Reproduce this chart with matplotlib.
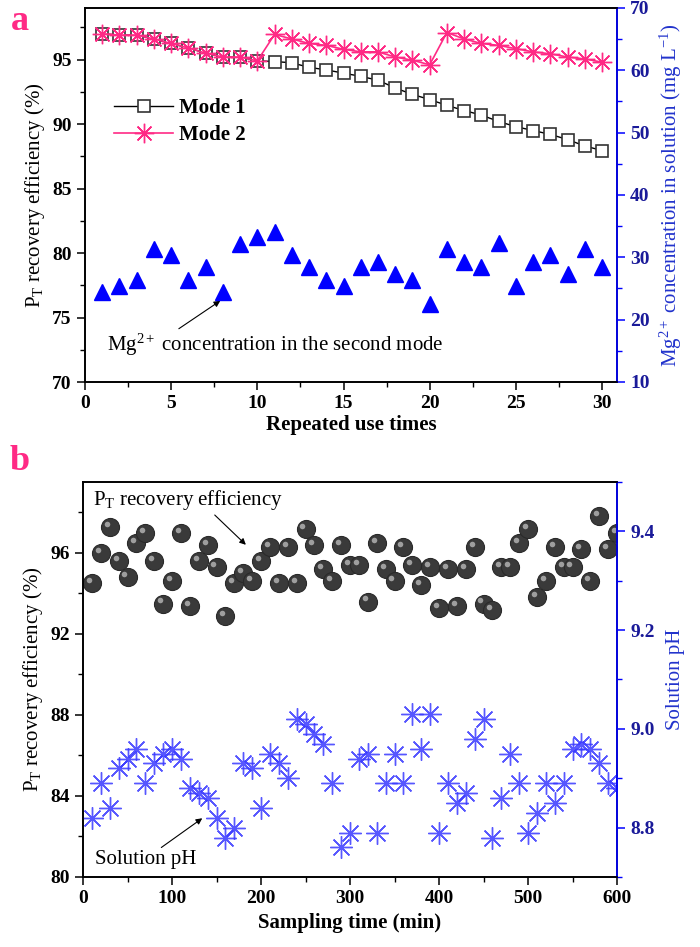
import numpy as np
import matplotlib
matplotlib.use("Agg")
import matplotlib.pyplot as plt
import matplotlib.transforms as mtransforms

plt.rcParams['font.family'] = ['Liberation Serif', 'DejaVu Serif']
plt.rcParams['mathtext.fontset'] = 'custom'
plt.rcParams['mathtext.rm'] = 'Liberation Serif'
plt.rcParams['mathtext.it'] = 'Liberation Serif:italic'
plt.rcParams['mathtext.bf'] = 'Liberation Serif:bold'

# panel a data
uses = np.arange(1, 31)
mode1 = [97.0, 96.9, 96.9, 96.6, 96.25, 95.9, 95.5, 95.2, 95.2, 94.9,
         94.85, 94.75, 94.4, 94.2, 93.95, 93.7, 93.4, 92.8, 92.3, 91.9,
         91.45, 91.05, 90.7, 90.2, 89.8, 89.5, 89.2, 88.8, 88.3, 87.95]
mode2 = [97.0, 96.9, 96.9, 96.6, 96.25, 95.9, 95.5, 95.2, 95.2, 94.9,
         96.95, 96.6, 96.25, 96.1, 95.8, 95.6, 95.6, 95.2, 94.95, 94.6,
         97.1, 96.6, 96.25, 96.1, 95.85, 95.6, 95.45, 95.2, 95.05, 94.8]
mg = [24.4, 25.4, 26.3, 31.4, 30.3, 26.3, 28.5, 24.4, 32.2, 33.2,
      34.0, 30.3, 28.5, 26.3, 25.4, 28.5, 29.3, 27.4, 26.3, 22.5,
      31.4, 29.3, 28.5, 32.3, 25.4, 29.3, 30.3, 27.4, 31.4, 28.5]

# panel b data
times = np.arange(10, 601, 10)
eff = [94.5, 96.0, 97.3, 95.6, 94.8, 96.5, 97.0, 95.6, 93.5, 94.6,
       97.0, 93.4, 95.6, 96.4, 95.3, 92.9, 94.5, 95.0, 94.6, 95.6,
       96.3, 94.5, 96.3, 94.5, 97.2, 96.4, 95.2, 94.6, 96.4, 95.4,
       95.4, 93.6, 96.5, 95.2, 94.6, 96.3, 95.4, 94.4, 95.3, 93.3,
       95.2, 93.4, 95.2, 96.3, 93.5, 93.2, 95.3, 95.3, 96.5, 97.2,
       93.8, 94.6, 96.3, 95.3, 95.3, 96.2, 94.6, 97.8, 96.2, 97.0]
ph = [8.82, 8.89, 8.84, 8.92, 8.94, 8.96, 8.89, 8.93, 8.95, 8.96,
      8.94, 8.88, 8.87, 8.86, 8.82, 8.78, 8.80, 8.93, 8.92, 8.84,
      8.95, 8.93, 8.90, 9.02, 9.01, 8.99, 8.97, 8.89, 8.76, 8.79,
      8.94, 8.95, 8.79, 8.89, 8.95, 8.89, 9.03, 8.96, 9.03, 8.79,
      8.89, 8.85, 8.87, 8.98, 9.02, 8.78, 8.86, 8.95, 8.89, 8.79,
      8.83, 8.89, 8.85, 8.89, 8.96, 8.97, 8.96, 8.93, 8.89, 8.88]

pink = '#ff2a85'
blue = '#0000ff'
navy = '#1a1a99'
star = (8, 2, 0)

fig = plt.figure(figsize=(7, 9.47), dpi=100)


def style(ax, axr):
    for a in (ax, axr):
        for s in a.spines.values():
            s.set_linewidth(1.2)
    axr.spines['right'].set_color(blue)
    ax.tick_params(direction='out', length=6, width=1.1, labelsize=14, top=False, right=False)
    ax.tick_params(which='minor', direction='out', length=3.5, width=1.0, top=False, right=False)
    axr.tick_params(direction='out', length=6, width=1.1, labelsize=14, colors=blue, labelcolor=navy)
    axr.tick_params(which='minor', direction='out', length=3.5, width=1.0, colors=blue)
    for lab in ax.get_xticklabels() + ax.get_yticklabels():
        lab.set_fontweight('bold')
    for lab in axr.get_yticklabels():
        lab.set_fontweight('bold')


# ---- panel a ----
ax1 = fig.add_axes([85/700, 565/947, 532/700, 374/947])
ax1r = ax1.twinx()
ax1.set_xlim(0, 30.87)
ax1.set_ylim(70, 99.0)
ax1r.set_ylim(10, 70)
ax1.set_xticks(np.arange(0, 31, 5))
ax1.set_xticks(np.arange(2.5, 30, 5), minor=True)
ax1.set_yticks(np.arange(70, 96, 5))
ax1.set_yticks(np.arange(72.5, 98, 5), minor=True)
ax1r.set_yticks(np.arange(10, 71, 10))
ax1r.set_yticks(np.arange(15, 70, 10), minor=True)

ax1.plot(uses, mode1, color='black', lw=1.0, marker='s', ms=9, mfc='white',
         mec='#333333', mew=1.2, label='Mode 1')
ax1.plot(uses, mode2, color=pink, lw=1.2, marker=star, ms=14, mec=pink,
         mew=1.0, label='Mode 2')
ax1r.plot(uses, mg, ls='none', marker='^', ms=11, color=blue)

ax1.set_xlabel('Repeated use times', fontsize=15, fontweight='bold', labelpad=2)
ax1.set_ylabel('P$_\\mathrm{T}$ recovery efficiency (%)', fontsize=15, labelpad=4)
ax1r.set_ylabel('Mg$^{2+}$ concentration in solution (mg L$^{-1}$)', fontsize=15,
                color='#2233cc', labelpad=6)
leg = ax1.legend(loc='upper left', bbox_to_anchor=(0.02, 0.81), frameon=False,
                 handlelength=2.8, labelspacing=0.35, handletextpad=0.3,
                 prop={'size': 15, 'weight': 'bold'})
ax1.annotate('Mg$^{2+}$ concentration in the second mode', xy=(7.85, 76.3),
             xytext=(1.3, 72.9), fontsize=15, va='center', ha='left',
             arrowprops=dict(arrowstyle='-|>', color='black', lw=0.8,
                             mutation_scale=9, shrinkA=0, shrinkB=0,
                             relpos=(0.2, 1.0)))
style(ax1, ax1r)
fig.text(20/700, 1 - 22/947, 'a', fontsize=26, fontweight='bold', color=pink,
         ha='center', va='center')

# ---- panel b ----
ax2 = fig.add_axes([83/700, 70/947, 534/700, 395/947])
ax2r = ax2.twinx()
ax2.set_xlim(0, 600)
ax2.set_ylim(80, 99.5)
ax2r.set_ylim(8.7, 9.5)
ax2.set_xticks(np.arange(0, 601, 100))
ax2.set_xticks(np.arange(50, 600, 100), minor=True)
ax2.set_yticks(np.arange(80, 97, 4))
ax2.set_yticks(np.arange(82, 99, 4), minor=True)
ax2r.set_yticks([8.8, 9.0, 9.2, 9.4])
ax2r.set_yticks([8.7, 8.9, 9.1, 9.3, 9.5], minor=True)
ax2r.set_yticklabels(['8.8', '9.0', '9.2', '9.4'])

ax2.plot(times, eff, ls='none', marker='o', ms=13, mfc='#3a3a3a', mec='#2a2a2a', mew=0.8)
hl = mtransforms.offset_copy(ax2.transData, fig=fig, x=-2.2, y=2.2, units='points')
ax2.plot(times, eff, ls='none', marker='o', ms=4, mfc='#b8b8b8', mec='none',
         alpha=0.8, transform=hl)
ax2r.plot(times, ph, ls='none', marker=star, ms=16, mec='#3a3aff', mew=1.0, alpha=0.85)

ax2.set_xlabel('Sampling time (min)', fontsize=15, fontweight='bold', labelpad=4)
ax2.set_ylabel('P$_\\mathrm{T}$ recovery efficiency (%)', fontsize=15, labelpad=4)
ax2r.set_ylabel('Solution pH', fontsize=15, color='#2233cc', labelpad=8)
ax2.annotate('P$_\\mathrm{T}$ recovery efficiency', xy=(183, 96.4), xytext=(11, 98.6),
             fontsize=15, va='center', ha='left',
             arrowprops=dict(arrowstyle='-|>', color='black', lw=0.8,
                             mutation_scale=9, shrinkA=0, shrinkB=0,
                             relpos=(0.6, 0.2)))
ax2.annotate('Solution pH', xy=(134, 82.9), xytext=(13, 80.85),
             fontsize=15, va='center', ha='left',
             arrowprops=dict(arrowstyle='-|>', color='black', lw=0.8,
                             mutation_scale=9, shrinkA=0, shrinkB=0,
                             relpos=(0.62, 1.0)))
style(ax2, ax2r)
fig.text(20/700, 1 - 462/947, 'b', fontsize=26, fontweight='bold', color=pink,
         ha='center', va='center')

fig.savefig('out.png', dpi=100)
